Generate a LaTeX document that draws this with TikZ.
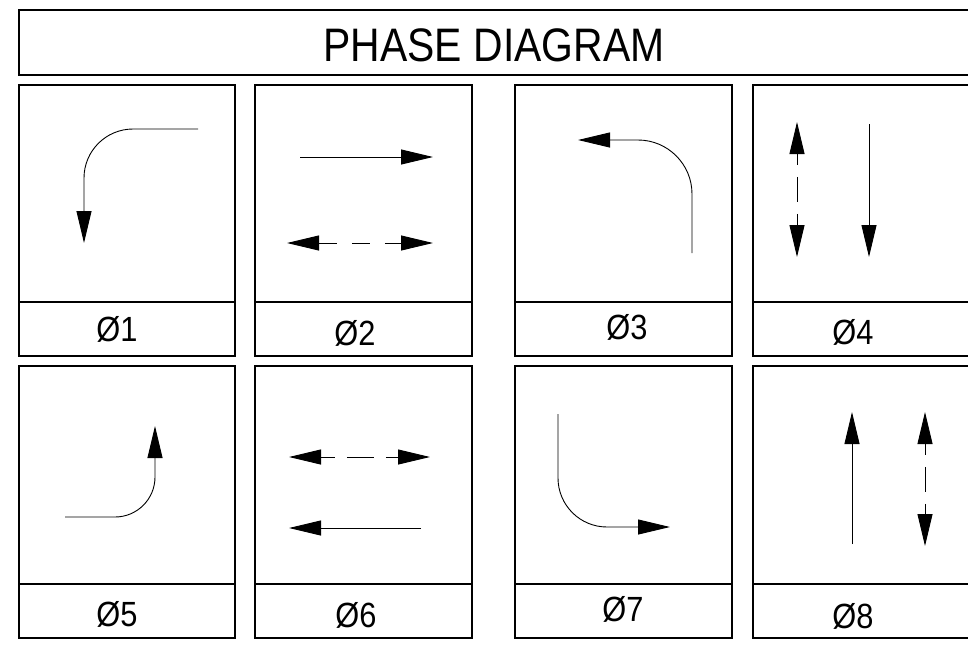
\documentclass[tikz,border=0pt]{standalone}
\usepackage{fontspec}
\setmainfont{Liberation Sans}
\usetikzlibrary{arrows.meta}
\begin{document}
\begin{tikzpicture}[x=1pt,y=-1pt,
  panel/.style={draw,line width=1.4pt},
  flow/.style={line width=0.9pt,-{Triangle[length=32pt,width=15pt]}},
  dflow/.style={line width=0.9pt,{Triangle[length=32pt,width=15pt]}-{Triangle[length=32pt,width=15pt]}},
  lbl/.style={font=\fontsize{35}{35}\selectfont, inner sep=0pt}]
\useasboundingbox (0,0) rectangle (968,646);
\fill[white] (0,0) rectangle (968,646);
% title
\draw[panel] (19,10) rectangle (972,75);
\node[font=\fontsize{47}{47}\selectfont, inner sep=0pt] (title) at (494,45) {\scalebox{0.87}[1]{PHASE DIAGRAM}};
% row 1 panels
\draw[panel] (19,85) rectangle (235,356);  \draw[panel] (19,302) -- (235,302);
\draw[panel] (255,85) rectangle (472,356); \draw[panel] (255,302) -- (472,302);
\draw[panel] (515,85) rectangle (732,356); \draw[panel] (515,302) -- (732,302);
\draw[panel] (753,85) rectangle (972,356); \draw[panel] (753,302) -- (972,302);
% row 2 panels
\draw[panel] (19,366) rectangle (235,638);  \draw[panel] (19,584) -- (235,584);
\draw[panel] (255,366) rectangle (472,638); \draw[panel] (255,584) -- (472,584);
\draw[panel] (515,366) rectangle (732,638); \draw[panel] (515,584) -- (732,584);
\draw[panel] (753,366) rectangle (972,638); \draw[panel] (753,584) -- (972,584);
% labels
\node[lbl] (l1) at (117,329) {\scalebox{0.88}[1]{Ø1}};
\node[lbl] (l2) at (355,333) {\scalebox{0.88}[1]{Ø2}};
\node[lbl] (l3) at (627,327) {\scalebox{0.88}[1]{Ø3}};
\node[lbl] (l4) at (853,332) {\scalebox{0.88}[1]{Ø4}};
\node[lbl] (l5) at (117,614) {\scalebox{0.88}[1]{Ø5}};
\node[lbl] (l6) at (356,615) {\scalebox{0.88}[1]{Ø6}};
\node[lbl] (l7) at (623,609) {\scalebox{0.88}[1]{Ø7}};
\node[lbl] (l8) at (853,616) {\scalebox{0.88}[1]{Ø8}};
% phase 1
\draw[flow, rounded corners=49pt] (198,129) -- (84,129) -- (84,243);
% phase 2
\draw[flow] (300,157) -- (433,157);
\draw[dflow, dash pattern=on 18pt off 15pt] (287,243) -- (433,243);
% phase 3
\draw[flow, rounded corners=54pt] (692,253) -- (692,140) -- (578,140);
% phase 4
\draw[dflow, dash pattern=on 25pt off 12pt, dash phase=14pt] (797,122) -- (797,257);
\draw[flow] (869,124) -- (869,257);
% phase 5
\draw[flow, rounded corners=40pt] (65,517) -- (155,517) -- (155,426);
% phase 6
\draw[dflow, dash pattern=on 27pt off 12pt, dash phase=13pt] (289,457) -- (430,457);
\draw[flow] (421,528) -- (289,528);
% phase 7
\draw[flow, rounded corners=49pt] (558,414) -- (558,527) -- (670,527);
% phase 8
\draw[flow] (852,544) -- (852,412);
\draw[dflow, dash pattern=on 25pt off 12pt, dash phase=14pt] (925,412) -- (925,546);
\end{tikzpicture}
\end{document}
